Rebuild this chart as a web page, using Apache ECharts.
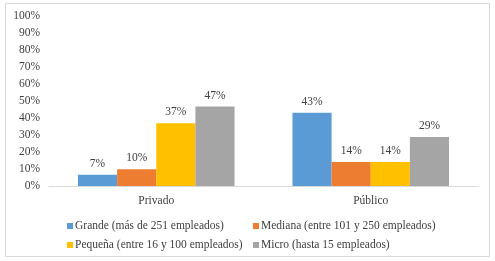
<!DOCTYPE html>
<html>
<head>
<meta charset="utf-8">
<script src="https://cdn.jsdelivr.net/npm/echarts@6/dist/echarts.min.js"></script>
<style>html,body{margin:0;padding:0;background:#fff}#c{width:495px;height:261px}</style>
</head>
<body>
<div id="c"></div>
<script>
var categories = ['Privado', 'Público'];
var seriesNames = ['Grande (más de 251 empleados)', 'Mediana (entre 101 y 250 empleados)', 'Pequeña (entre 16 y 100 empleados)', 'Micro (hasta 15 empleados)'];
var grande = [6.6, 43.1];
var mediana = [9.9, 14.1];
var pequena = [36.9, 14.1];
var micro = [46.7, 28.8];
var colors = ['#5B9BD5', '#ED7D31', '#FFC000', '#A5A5A5'];
var yTicks = [0, 100, 10];

var font = 'Liberation Serif, Times New Roman, serif';
var txt = '#404040';
var values = [grande, mediana, pequena, micro];

var chart = echarts.init(document.getElementById('c'));
chart.setOption({
  animation: false,
  textStyle: {fontFamily: font},
  graphic: [{type: 'rect', shape: {x: 5.5, y: 3.5, width: 484, height: 253}, style: {fill: 'none', stroke: '#D9D9D9', lineWidth: 1}}],
  grid: {left: 49, right: 17, top: 16, bottom: 75},
  legend: [
    {orient: 'vertical', left: 62, top: 215, itemWidth: 6, itemHeight: 6, itemGap: 7, icon: 'rect',
     data: [seriesNames[0], seriesNames[2]], textStyle: {fontFamily: font, fontSize: 11.5, color: txt, padding: [0, 0, 0, -3]}},
    {orient: 'vertical', left: 248, top: 215, itemWidth: 6, itemHeight: 6, itemGap: 7, icon: 'rect',
     data: [seriesNames[1], seriesNames[3]], textStyle: {fontFamily: font, fontSize: 11.5, color: txt, padding: [0, 0, 0, -3]}}
  ],
  xAxis: {type: 'category', data: categories,
    axisLine: {lineStyle: {color: '#D9D9D9'}}, axisTick: {show: false},
    axisLabel: {fontFamily: font, fontSize: 11.5, color: txt, margin: 9}},
  yAxis: {type: 'value', min: yTicks[0], max: yTicks[1], interval: yTicks[2],
    splitLine: {show: false}, axisLine: {show: false}, axisTick: {show: false},
    axisLabel: {formatter: '{value}%', fontFamily: font, fontSize: 11.5, color: txt, margin: 9}},
  series: seriesNames.map(function (n, i) {
    return {name: n, type: 'bar', data: values[i], barGap: '0%', barCategoryGap: '27%',
      itemStyle: {color: colors[i]},
      label: {show: true, position: 'top', distance: 5, fontFamily: font, fontSize: 11.5, color: txt,
        formatter: function (p) { return Math.round(p.value) + '%'; }}};
  })
});
</script>
</body>
</html>
